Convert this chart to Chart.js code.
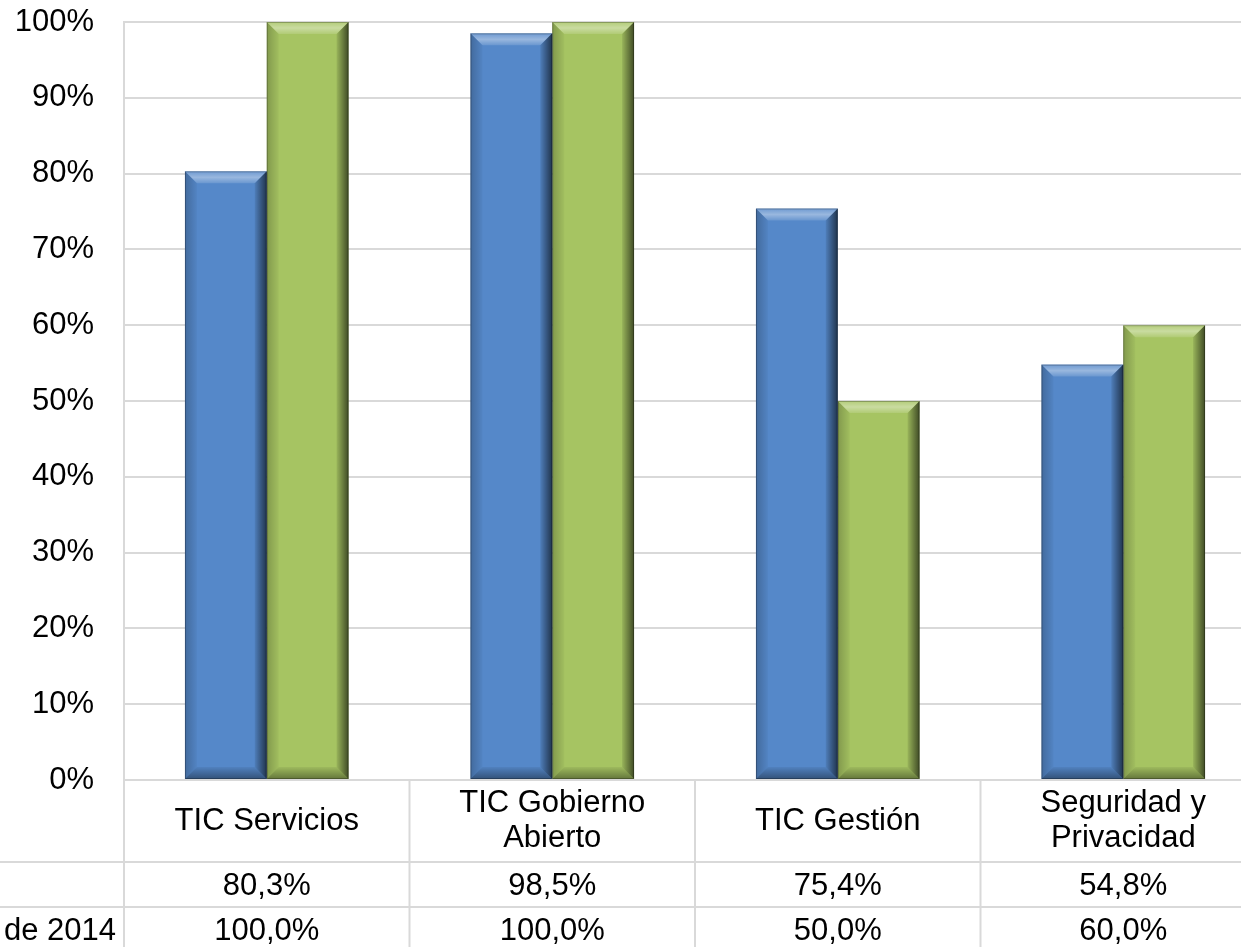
<!DOCTYPE html>
<html>
<head>
<meta charset="utf-8">
<script src="https://cdn.jsdelivr.net/npm/chart.js@4/dist/chart.umd.min.js"></script>
<style>
  html,body{margin:0;padding:0;background:#fff;overflow:hidden}
  #wrap{width:1266px;height:947px;position:relative}
</style>
</head>
<body>
<div id="wrap"><canvas id="c"></canvas></div>
<script>
const categories = [['TIC Servicios'], ['TIC Gobierno','Abierto'], ['TIC Gestión'], ['Seguridad y','Privacidad']];
const avance = [80.3, 98.5, 75.4, 54.8];
const meta2014 = [100, 100, 50, 60];
const rowLabels = ['', 'de 2014'];
const yTicks = [0,10,20,30,40,50,60,70,80,90,100];

const gridColor = '#d9d9d9';
const font = "'Liberation Sans', Arial, sans-serif";
const fmt = v => v.toFixed(1).replace('.', ',') + '%';

// bevel look for the bars
const bevel = {
  id:'bevel',
  afterDatasetsDraw(chart){
    const ctx = chart.ctx;
    chart.data.datasets.forEach((ds,i)=>{
      chart.getDatasetMeta(i).data.forEach(bar=>{
        const L = bar.x - bar.width/2, R = bar.x + bar.width/2, T = bar.y, B = bar.base;
        const b = Math.min(12, (B-T)/2);
        ctx.save();
        // top
        let g = ctx.createLinearGradient(0,T,0,T+b);
        g.addColorStop(0,'rgba(255,255,255,.15)'); g.addColorStop(.5,'rgba(255,255,255,.4)'); g.addColorStop(1,'rgba(255,255,255,.12)');
        ctx.fillStyle = g;
        ctx.beginPath(); ctx.moveTo(L,T); ctx.lineTo(R,T); ctx.lineTo(R-b,T+b); ctx.lineTo(L+b,T+b); ctx.closePath(); ctx.fill();
        // bottom
        g = ctx.createLinearGradient(0,B-b,0,B);
        g.addColorStop(0,'rgba(0,0,0,.05)'); g.addColorStop(1,'rgba(0,0,0,.4)');
        ctx.fillStyle = g;
        ctx.beginPath(); ctx.moveTo(L,B); ctx.lineTo(R,B); ctx.lineTo(R-b,B-b); ctx.lineTo(L+b,B-b); ctx.closePath(); ctx.fill();
        // right
        g = ctx.createLinearGradient(R-b,0,R,0);
        g.addColorStop(0,'rgba(0,0,0,.08)'); g.addColorStop(1,'rgba(0,0,0,.62)');
        ctx.fillStyle = g;
        ctx.beginPath(); ctx.moveTo(R,T); ctx.lineTo(R,B); ctx.lineTo(R-b,B-b); ctx.lineTo(R-b,T+b); ctx.closePath(); ctx.fill();
        // left
        g = ctx.createLinearGradient(L,0,L+b,0);
        g.addColorStop(0,'rgba(0,0,0,.22)'); g.addColorStop(1,'rgba(0,0,0,.03)');
        ctx.fillStyle = g;
        ctx.beginPath(); ctx.moveTo(L,T); ctx.lineTo(L+b,T+b); ctx.lineTo(L+b,B-b); ctx.lineTo(L,B); ctx.closePath(); ctx.fill();
        ctx.strokeStyle = 'rgba(0,0,0,.25)'; ctx.lineWidth = 1;
        ctx.strokeRect(L+.5,T+.5,R-L-1,B-T-1);
        ctx.restore();
      });
    });
  }
};

// data table under the plot
const dataTable = {
  id:'dataTable',
  afterDraw(chart){
    const ctx = chart.ctx, area = chart.chartArea, x = chart.scales.x;
    const W = chart.width, H = chart.height;
    const top = area.bottom, r1 = 862, r2 = 907;
    const step = (area.right - area.left) / categories.length;
    ctx.save();
    ctx.strokeStyle = gridColor; ctx.lineWidth = 2;
    ctx.beginPath();
    ctx.moveTo(area.left, top); ctx.lineTo(W, top);
    ctx.moveTo(0, r1); ctx.lineTo(W, r1);
    ctx.moveTo(0, r2); ctx.lineTo(W, r2);
    for(let k=0;k<=categories.length;k++){
      const px = area.left + k*step;
      ctx.moveTo(px, k===0 ? area.top : top); ctx.lineTo(px, H);
    }
    ctx.stroke();
    ctx.fillStyle = '#000';
    ctx.font = '31px ' + font;
    ctx.textAlign = 'center'; ctx.textBaseline = 'middle';
    categories.forEach((lines,i)=>{
      const cx = x.getPixelForValue(i);
      const mid = 821, lh = 35;
      lines.forEach((t,j)=>ctx.fillText(t, cx, mid - (lines.length-1)*lh/2 + j*lh));
      ctx.fillText(fmt(avance[i]), cx, 886);
      ctx.fillText(fmt(meta2014[i]), cx, 931);
    });
    ctx.textAlign = 'right';
    ctx.fillText(rowLabels[0], 116, 886);
    ctx.fillText(rowLabels[1], 116, 931);
    ctx.restore();
  }
};

new Chart(document.getElementById('c'), {
  type:'bar',
  data:{
    labels: categories.map(c=>c.join(' ')),
    datasets:[
      {label:'Avance', data:avance, backgroundColor:'#5588c9', borderWidth:0},
      {label:'Meta a diciembre de 2014', data:meta2014, backgroundColor:'#a6c462', borderWidth:0}
    ]
  },
  options:{
    responsive:true, maintainAspectRatio:false, animation:false,
    layout:{padding:{top:22, bottom:167, left:0, right:0}},
    plugins:{legend:{display:false}, tooltip:{enabled:false}},
    datasets:{bar:{categoryPercentage:0.573, barPercentage:1}},
    scales:{
      x:{display:false},
      y:{
        min:0, max:100,
        afterFit(s){ s.width = 124; s.paddingTop = 0; s.paddingBottom = 0; },
        afterBuildTicks(s){ s.ticks = yTicks.map(v=>({value:v})); },
        ticks:{callback:v=>v+'%', color:'#000', font:{family:font, size:31}, padding:30},
        grid:{color:gridColor, lineWidth:2, drawTicks:false},
        border:{display:true, color:gridColor, width:2}
      }
    }
  },
  plugins:[bevel, dataTable]
});
</script>
</body>
</html>
